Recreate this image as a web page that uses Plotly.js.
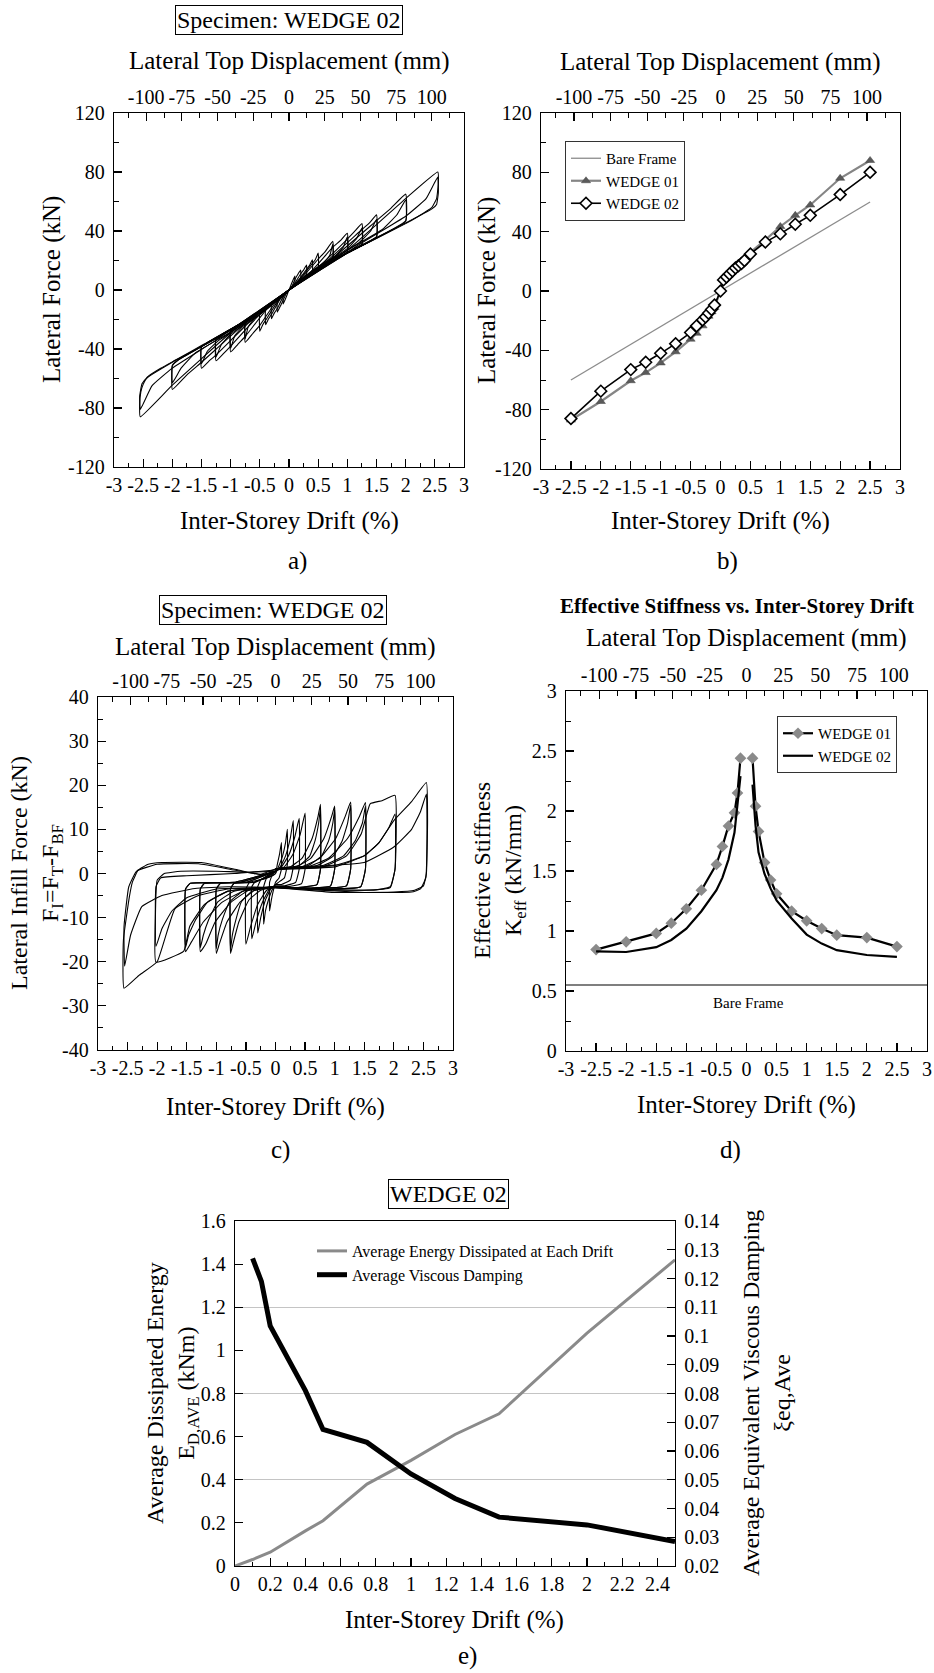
<!DOCTYPE html>
<html><head><meta charset="utf-8">
<script src="https://cdn.plot.ly/plotly-3.0.1.min.js"></script>
<style>html,body{margin:0;padding:0;background:#fff}#chart{width:934px;height:1673px}</style>
</head><body><div id="chart"></div>
<script>
// ---------- Panel a: total lateral force hysteresis (WEDGE 02), loop vertices ----------
const aX010 = [0, 0.05, 0.1, 0.1, 0.05, 0, -0.05, -0.1, -0.1, -0.05, 0];
const aY010 = [0, 5, 9.5, 4.6, 2, 0, -5, -9.5, -4.3, -1.8, 0];
const aX020 = [0, 0.05, 0.1, 0.15, 0.2, 0.2, 0.1, 0, -0.05, -0.1, -0.15, -0.2, -0.2, -0.1, 0];
const aY020 = [0, 2.5, 7, 10.5, 13.5, 8, 3.6, 0, -2.5, -7, -11, -15, -7.5, -3.3, 0];
const aX030 = [0, 0.1, 0.2, 0.25, 0.3, 0.3, 0.15, 0, -0.1, -0.2, -0.25, -0.3, -0.3, -0.15, 0];
const aY030 = [0, 4.5, 11, 13.5, 17, 10.5, 5.4, 0, -4.5, -12.5, -15.5, -19.5, -10.5, -5, 0];
const aX040 = [0, 0.15, 0.3, 0.35, 0.4, 0.4, 0.2, 0, -0.15, -0.3, -0.35, -0.4, -0.4, -0.2, 0];
const aY040 = [0, 6, 14, 16.5, 20.5, 13, 7, 0, -6, -16.5, -19.5, -23.5, -13, -6.5, 0];
const aX050 = [0, 0.2, 0.4, 0.45, 0.5, 0.5, 0.25, 0, -0.2, -0.4, -0.45, -0.5, -0.5, -0.25, 0];
const aY050 = [0, 8, 18, 20.5, 25, 15.5, 8.2, 0, -8, -20.5, -23.5, -28, -16, -8, 0];
const aX075 = [0, 0.25, 0.5, 0.62, 0.75, 0.75, 0.38, 0, -0.25, -0.5, -0.62, -0.75, -0.75, -0.38, 0];
const aY075 = [0, 9.5, 21, 26, 33, 21.5, 11.2, 0, -9.5, -24, -29.5, -35.5, -22.5, -11.7, 0];
const aX075b = [0, 0.38, 0.6, 0.7, 0.75, 0.75, 0.38, 0, -0.38, -0.6, -0.7, -0.75, -0.75, -0.38, 0];
const aY075b = [0, 12.5, 18.5, 23.5, 31, 21.5, 11.2, 0, -13, -19.5, -25, -33, -22.5, -11.7, 0];
const aX100 = [0, 0.38, 0.75, 0.88, 1.0, 1.0, 0.5, 0, -0.38, -0.75, -0.88, -1.0, -1.0, -0.5, 0];
const aY100 = [0, 12.5, 29, 33.5, 38.5, 26, 14.1, 0, -13, -31.5, -37, -42, -28, -15, 0];
const aX100b = [0, 0.5, 0.8, 0.93, 1.0, 1.0, 0.5, 0, -0.5, -0.8, -0.93, -1.0, -1.0, -0.5, 0];
const aY100b = [0, 15.5, 23.5, 29, 36, 26, 14.1, 0, -16.5, -25, -31, -39.5, -28, -15, 0];
const aX125 = [0, 0.5, 1.0, 1.12, 1.25, 1.25, 0.62, 0, -0.5, -1.0, -1.12, -1.25, -1.25, -0.62, 0];
const aY125 = [0, 15.5, 34.5, 39.5, 45, 31, 17.1, 0, -16.5, -38, -43, -48, -33, -18, 0];
const aX125b = [0, 0.62, 1.0, 1.16, 1.25, 1.25, 0.62, 0, -0.62, -1.0, -1.16, -1.25, -1.25, -0.62, 0];
const aY125b = [0, 18, 28, 35, 42, 31, 17.1, 0, -19, -30, -37, -45.5, -33, -18, 0];
const aX150 = [0, 0.62, 1.25, 1.38, 1.5, 1.5, 0.75, 0, -0.62, -1.25, -1.38, -1.5, -1.5, -0.75, 0];
const aY150 = [0, 18.5, 41, 45.5, 51, 36, 20.1, 0, -19.5, -44, -48.5, -53, -38.5, -21, 0];
const aX150b = [0, 0.75, 1.2, 1.4, 1.5, 1.5, 0.75, 0, -0.75, -1.2, -1.4, -1.5, -1.5, -0.75, 0];
const aY150b = [0, 21, 32, 40, 48, 36, 20.1, 0, -22, -34, -41.5, -50, -38.5, -21, 0];
const aX200 = [0, 0.75, 1.5, 1.75, 2.0, 2.0, 1.0, 0, -0.75, -1.5, -1.75, -2.0, -2.0, -1.9, -1.0, 0];
const aY200 = [0, 21.5, 47, 55.5, 65, 47, 25, 0, -22.5, -49, -57.5, -67.5, -51.5, -47.5, -27, 0];
const aX200b = [0, 1.0, 1.6, 1.85, 2.0, 2.0, 1.0, 0, -1.0, -1.6, -1.85, -2.0, -2.0, -1.9, -1.0, 0];
const aY200b = [0, 27, 41, 51, 61, 46.5, 25, 0, -28.5, -42.5, -53, -63, -51, -47.5, -27, 0];
const aX250 = [0, 1.0, 2.0, 2.55, 2.56, 2.53, 2.45, 2.2, 2.0, 1.0, 0.5, 0, -1.0, -2.0, -2.55, -2.56, -2.54, -2.5, -2.43, -2.2, -1.92, -1.47, -1.0, -0.5, 0];
const aY250 = [0, 27, 62, 80, 72, 62, 56, 49.5, 45, 25, 14, 0, -29, -64.5, -86, -78, -69, -64, -59, -53, -47, -37, -27, -15, 0];
const aX250b = [0, 1.25, 2.0, 2.35, 2.55, 2.56, 2.53, 2.45, 2.0, 1.0, 0, -1.25, -2.0, -2.35, -2.55, -2.56, -2.52, -2.43, -2.0, -1.0, 0];
const aY250b = [0, 32, 50, 62, 76.5, 66, 58, 55, 45.5, 25.5, 0, -34, -53, -65, -81, -72, -63.5, -59.5, -49, -27.5, 0];

// ---------- Panel b: envelope curves ----------
const bBareDrift = [-2.5, 2.5];
const bBareForce = [-60, 60];
const bDrift01 = [-2.5, -2, -1.5, -1.25, -1, -0.75, -0.5, -0.4, -0.3, -0.2, -0.15, -0.1, 0, 0.05, 0.1, 0.15, 0.2, 0.3, 0.4, 0.5, 0.75, 1, 1.25, 1.5, 2, 2.5];
const bForce01 = [-87, -74.5, -60.5, -55, -48.5, -41, -32.5, -28.5, -23.5, -17, -14, -11, 0, 8, 10, 12, 14, 18, 22, 26, 34.5, 43.5, 51, 58, 76, 88];
const bDrift02 = [-2.5, -2, -1.5, -1.25, -1, -0.75, -0.5, -0.4, -0.3, -0.25, -0.2, -0.15, -0.1, 0, 0.05, 0.1, 0.15, 0.2, 0.25, 0.3, 0.35, 0.4, 0.5, 0.75, 1, 1.25, 1.5, 2, 2.5];
const bForce02 = [-86, -67.5, -53, -48, -42, -35.5, -28, -23.5, -19.5, -17.5, -15, -12.5, -9.5, 0, 7.5, 9.5, 11.5, 13.5, 15.5, 17, 18.5, 20.5, 25, 33, 38.5, 45, 51, 65, 80];

// ---------- Panel c: infill force hysteresis, loop vertices ----------
const cX010 = [0, 0.03, 0.07, 0.1, 0.1, 0.06, 0, -0.03, -0.07, -0.1, -0.1, -0.06, 0];
const cY010 = [0, 2, 4.5, 7, 1, -1, -2, -3.5, -6, -8.5, -2, -0.5, 0];
const cX020 = [0, 0.05, 0.12, 0.17, 0.2, 0.2, 0.15, 0.05, 0, -0.05, -0.12, -0.17, -0.2, -0.2, -0.15, -0.05, 0];
const cY020 = [0, 1.5, 4, 7, 10, 2, -1, -2, -2.5, -3.5, -6, -8.5, -11.5, -3, -1, -0.5, 0];
const cX030 = [0, 0.08, 0.17, 0.25, 0.3, 0.3, 0.25, 0.1, 0, -0.08, -0.17, -0.25, -0.3, -0.3, -0.25, -0.1, 0];
const cY030 = [0.5, 1.5, 4, 8, 12, 1.5, -1.5, -2.5, -2.5, -3.5, -6, -10, -13.5, -3, -1.5, -0.8, 0.5];
const cX040 = [0, 0.1, 0.22, 0.33, 0.4, 0.4, 0.34, 0.15, 0, -0.1, -0.22, -0.33, -0.4, -0.4, -0.34, -0.15, 0];
const cY040 = [0.5, 1.5, 4, 8.5, 12.5, 1, -2, -2.8, -2.8, -3.5, -6.5, -11, -14.8, -3, -1.8, -1, 0.5];
const cX050 = [0, 0.15, 0.3, 0.42, 0.5, 0.5, 0.44, 0.2, 0, -0.15, -0.3, -0.42, -0.5, -0.5, -0.44, -0.2, 0];
const cY050 = [0.5, 1.5, 4.5, 9, 13.7, 1, -2.3, -3, -3, -3.8, -7, -12, -16, -3.5, -2, -1.2, 0.5];
const cX075 = [0, 0.25, 0.45, 0.62, 0.72, 0.76, 0.76, 0.7, 0.35, 0, -0.25, -0.45, -0.62, -0.72, -0.76, -0.76, -0.7, -0.35, 0];
const cY075 = [1, 1.5, 3.5, 8, 13, 15.7, 1, -2.5, -3.2, -3, -3.8, -6, -11, -16, -18.1, -3.5, -2.2, -2, 0.5];
const cX075b = [0, 0.4, 0.58, 0.67, 0.73, 0.76, 0.76, 0.7, 0.35, 0, -0.4, -0.58, -0.67, -0.73, -0.76, -0.76, -0.7, -0.35, 0];
const cY075b = [1, 1.8, 4, 7.5, 11.5, 14.8, 1, -2.5, -3.2, -3, -4, -6.5, -10.5, -14, -17.2, -3.5, -2.2, -2, 0.5];
const cX100 = [0, 0.35, 0.6, 0.82, 0.95, 1.0, 1.0, 0.93, 0.5, 0, -0.35, -0.6, -0.82, -0.95, -1.0, -1.0, -0.93, -0.5, 0];
const cY100 = [1, 1.5, 3.5, 8, 13, 15.3, 1, -2.8, -3.3, -3, -3.8, -6.5, -11, -16, -18.1, -3.5, -2.2, -2, 0.5];
const cX100b = [0, 0.55, 0.78, 0.9, 0.97, 1.0, 1.0, 0.93, 0.5, 0, -0.55, -0.78, -0.9, -0.97, -1.0, -1.0, -0.93, -0.5, 0];
const cY100b = [1, 1.8, 4, 7.5, 11.5, 14.5, 1, -2.8, -3.3, -3, -4, -6.5, -10.5, -14, -17, -3.5, -2.2, -2, 0.5];
const cX125 = [0, 0.45, 0.75, 1.02, 1.18, 1.27, 1.27, 1.2, 0.6, 0, -0.45, -0.75, -1.02, -1.18, -1.27, -1.27, -1.2, -0.6, 0];
const cY125 = [1, 1.5, 3.5, 8, 13, 16.2, 1, -2.8, -3.4, -3, -3.8, -6.5, -11, -16, -17.7, -3.5, -2.2, -2, 0.5];
const cX125b = [0, 0.7, 0.98, 1.13, 1.22, 1.27, 1.27, 1.2, 0.6, 0, -0.7, -0.98, -1.13, -1.22, -1.27, -1.27, -1.2, -0.6, 0];
const cY125b = [1, 1.8, 4, 7.5, 11.5, 15.5, 1, -2.8, -3.4, -3, -4, -6.5, -10.5, -14, -16.8, -3.5, -2.2, -2, 0.5];
const cX150 = [0, 0.55, 0.9, 1.22, 1.42, 1.52, 1.52, 1.44, 0.7, 0, -0.55, -0.9, -1.22, -1.42, -1.52, -1.52, -1.44, -0.7, 0];
const cY150 = [1, 1.5, 3.5, 8, 13, 16.1, 1, -3, -3.5, -3, -4, -6.5, -11, -15.5, -17.7, -3.5, -2.2, -2, 0.5];
const cX150b = [0, 0.8, 1.15, 1.35, 1.47, 1.52, 1.52, 1.44, 0.7, 0, -0.8, -1.15, -1.35, -1.47, -1.52, -1.52, -1.44, -0.7, 0];
const cY150b = [1, 1.8, 4, 7.5, 11.5, 15.3, 1, -3, -3.5, -3, -4, -6.5, -10.5, -14, -16.8, -3.5, -2.2, -2, 0.5];
const cX200 = [0, 0.8, 1.2, 1.45, 1.6, 1.8, 2.02, 2.02, 1.94, 1.7, 1.0, 0, -0.8, -1.2, -1.45, -1.55, -2.02, -2.03, -2.0, -1.88, -1.6, -1.0, -0.5, 0];
const cY200 = [1, 1.5, 4, 9, 15.8, 16.5, 17.7, 1, -3, -3.7, -3.8, -3, -4, -7, -12, -17.6, -20.1, -10, -1.5, 0, 0.5, 0.5, 0.3, 0.5];
const cX200b = [0, 1.0, 1.5, 1.75, 1.92, 2.02, 2.02, 1.94, 1.5, 0, -1.0, -1.5, -1.75, -1.92, -2.02, -2.02, -1.94, -1.5, -0.7, 0];
const cY200b = [1, 1.8, 4, 7, 10.5, 13.5, 1, -3.2, -3.8, -3.2, -3.5, -5.5, -8.5, -12.5, -16.5, -3, -1, -0.5, 0, 0.8];
const cX250 = [0, 1.0, 1.5, 1.75, 2.0, 2.3, 2.55, 2.57, 2.55, 2.5, 2.35, 2.0, 1.0, 0, -0.8, -1.3, -1.7, -2.0, -2.3, -2.56, -2.57, -2.47, -2.42, -2.32, -2.15, -1.92, -1.25, -0.63, -0.23, 0];
const cY250 = [1, 1.5, 4, 7, 12, 16.3, 20.6, 12, 0, -2.8, -3.8, -4.2, -4.3, -3.2, -3.5, -5, -8, -20, -23, -26, -15, -5.3, -2, 0.8, 2.1, 2.5, 2.5, 0.8, -0.3, 0.5];
const cX250b = [0, 1.5, 2.0, 2.3, 2.45, 2.55, 2.56, 2.54, 2.45, 2.3, 1.5, 0, -0.8, -1.36, -1.92, -2.26, -2.45, -2.55, -2.56, -2.48, -2.35, -2.0, -1.3, -0.7, -0.25, 0];
const cY250b = [1, 2.5, 6, 10, 14, 18, 8, -1, -3.5, -4.2, -4.3, -3.2, -3, -3.4, -5, -7.5, -14, -21, -12, -3, 0.5, 2.1, 2.2, 0.8, -0.2, 1];

// ---------- Panel d: effective stiffness ----------
const dDrift = [-2.5, -2, -1.5, -1.25, -1, -0.75, -0.5, -0.4, -0.3, -0.2, -0.15, -0.1, 0, 0.1, 0.15, 0.2, 0.3, 0.4, 0.5, 0.75, 1, 1.25, 1.5, 2, 2.5];
const dK01 = [0.845, 0.91, 0.98, 1.065, 1.185, 1.34, 1.555, 1.705, 1.875, 1.985, 2.15, 2.44, null, 2.44, 2.04, 1.83, 1.57, 1.425, 1.31, 1.165, 1.085, 1.02, 0.965, 0.945, 0.87];
const dK02 = [0.83, 0.825, 0.865, 0.925, 1.02, 1.165, 1.34, 1.445, 1.595, 1.82, 2.055, 2.29, null, 2.22, 1.88, 1.655, 1.475, 1.355, 1.255, 1.105, 0.97, 0.895, 0.84, 0.8, 0.785];
const dBareDrift = [-3, 3];
const dBareK = [0.55, 0.55];

// ---------- Panel e: energy and damping ----------
const eDrift = [0, 0.1, 0.2, 0.3, 0.4, 0.5, 0.75, 1, 1.25, 1.5, 2, 2.5];
const eEnergy = [0, 0.03, 0.064, 0.115, 0.163, 0.21, 0.38, 0.49, 0.61, 0.706, 1.08, 1.42];
const eDampDrift = [0.1, 0.15, 0.2, 0.3, 0.4, 0.5, 0.75, 1, 1.25, 1.5, 2, 2.5];
const eDamping = [0.127, 0.119, 0.1035, 0.092, 0.081, 0.0675, 0.063, 0.052, 0.0435, 0.037, 0.0343, 0.0285];

// ---------- tick labels ----------
const driftTicks = [-3, -2.5, -2, -1.5, -1, -0.5, 0, 0.5, 1, 1.5, 2, 2.5, 3];
const dispTicks = [-100, -75, -50, -25, 0, 25, 50, 75, 100];
const forceTicksA = [-120, -80, -40, 0, 40, 80, 120];
const forceTicksC = [-40, -30, -20, -10, 0, 10, 20, 30, 40];

// ---------- layout helpers ----------
const W = 934, H = 1673;
const SERIF = 'Liberation Serif, DejaVu Serif, Times New Roman, serif';
const px = v => v / W;
const py = v => 1 - v / H;
const lbl = arr => arr.map(v => String(v));

const panels = {
  a: {l: 114, r: 464, t: 113, b: 467},
  b: {l: 541, r: 900, t: 113, b: 469},
  c: {l: 98, r: 453, t: 697, b: 1050},
  d: {l: 566, r: 927, t: 691, b: 1051},
  e: {l: 235, r: 675, t: 1221, b: 1566}
};
const xd = p => [px(p.l), px(p.r)];
const yd = p => [py(p.b), py(p.t)];

function baseAx(extra) {
  return Object.assign({
    showline: true, linecolor: '#000', linewidth: 1.3, mirror: true,
    ticks: 'inside', ticklen: 8, tickwidth: 1.2, tickcolor: '#000',
    showgrid: false, zeroline: false, tickangle: 0, fixedrange: true,
    tickfont: {family: SERIF, size: 20, color: '#000'}
  }, extra);
}
function minor(t0, dt) {
  return {tickmode: 'linear', tick0: t0, dtick: dt, ticks: 'inside', ticklen: 4.5, tickwidth: 1, tickcolor: '#000', showgrid: false};
}
function driftAx(p, anchor) {
  return baseAx({domain: xd(p), anchor: anchor, range: [-3, 3], tickmode: 'array',
    tickvals: driftTicks, ticktext: lbl(driftTicks), minor: minor(0.25, 0.5)});
}
function dispAx(p, overlay, anchor) {
  return baseAx({domain: xd(p), anchor: anchor, overlaying: overlay, side: 'top', mirror: false,
    range: [-122.5, 122.5], tickmode: 'array', tickvals: dispTicks, ticktext: lbl(dispTicks),
    minor: minor(12.5, 25)});
}

const traces = [];
function loop(xs, ys, xa, ya) {
  traces.push({x: xs, y: ys, xaxis: xa, yaxis: ya, type: 'scatter', mode: 'lines',
    line: {color: '#000', width: 1.1, shape: 'spline', smoothing: 0.35}, showlegend: false, hoverinfo: 'skip'});
}
function empty(xa, ya) {
  traces.push({x: [], y: [], xaxis: xa, yaxis: ya, type: 'scatter', mode: 'lines', showlegend: false, hoverinfo: 'skip'});
}

// Panel a
[[aX010, aY010], [aX020, aY020], [aX030, aY030], [aX040, aY040], [aX050, aY050],
 [aX075, aY075], [aX075b, aY075b], [aX100, aY100], [aX100b, aY100b], [aX125, aY125], [aX125b, aY125b],
 [aX150, aY150], [aX150b, aY150b], [aX200, aY200], [aX200b, aY200b], [aX250, aY250], [aX250b, aY250b]]
  .forEach(l => loop(l[0], l[1], 'x', 'y'));
empty('x2', 'y');

// Panel b
traces.push({x: bBareDrift, y: bBareForce, xaxis: 'x3', yaxis: 'y2', type: 'scatter', mode: 'lines',
  name: 'Bare Frame', line: {color: '#8c8c8c', width: 1.3}, legend: 'legend', hoverinfo: 'skip'});
traces.push({x: bDrift01, y: bForce01, xaxis: 'x3', yaxis: 'y2', type: 'scatter', mode: 'lines+markers',
  name: 'WEDGE 01', line: {color: '#858585', width: 2.2},
  marker: {symbol: 'triangle-up', size: 8, color: '#5a5a5a', line: {color: '#444', width: 0.5}},
  legend: 'legend', hoverinfo: 'skip'});
traces.push({x: bDrift02, y: bForce02, xaxis: 'x3', yaxis: 'y2', type: 'scatter', mode: 'lines+markers',
  name: 'WEDGE 02', line: {color: '#000', width: 1.6},
  marker: {symbol: 'diamond', size: 9, color: '#fff', line: {color: '#000', width: 1.6}},
  legend: 'legend', hoverinfo: 'skip'});
empty('x4', 'y2');

// Panel c
[[cX010, cY010], [cX020, cY020], [cX030, cY030], [cX040, cY040], [cX050, cY050],
 [cX075, cY075], [cX075b, cY075b], [cX100, cY100], [cX100b, cY100b], [cX125, cY125], [cX125b, cY125b],
 [cX150, cY150], [cX150b, cY150b], [cX200, cY200], [cX200b, cY200b], [cX250, cY250], [cX250b, cY250b]]
  .forEach(l => loop(l[0], l[1], 'x5', 'y3'));
empty('x6', 'y3');

// Panel d
traces.push({x: dBareDrift, y: dBareK, xaxis: 'x7', yaxis: 'y4', type: 'scatter', mode: 'lines',
  line: {color: '#555', width: 1.6}, showlegend: false, hoverinfo: 'skip'});
traces.push({x: dDrift, y: dK01, xaxis: 'x7', yaxis: 'y4', type: 'scatter', mode: 'lines+markers',
  name: 'WEDGE 01', line: {color: '#000', width: 2.2},
  marker: {symbol: 'diamond', size: 9, color: '#8a8a8a'}, legend: 'legend2', hoverinfo: 'skip'});
traces.push({x: dDrift, y: dK02, xaxis: 'x7', yaxis: 'y4', type: 'scatter', mode: 'lines',
  name: 'WEDGE 02', line: {color: '#000', width: 2.2}, legend: 'legend2', hoverinfo: 'skip'});
empty('x8', 'y4');

// Panel e
empty('x9', 'y7');
traces.push({x: eDrift, y: eEnergy, xaxis: 'x9', yaxis: 'y5', type: 'scatter', mode: 'lines',
  name: 'Average Energy Dissipated at Each Drift', line: {color: '#8a8a8a', width: 3},
  legend: 'legend3', hoverinfo: 'skip'});
traces.push({x: eDampDrift, y: eDamping, xaxis: 'x9', yaxis: 'y6', type: 'scatter', mode: 'lines',
  name: 'Average Viscous Damping', line: {color: '#000', width: 5},
  legend: 'legend3', hoverinfo: 'skip'});

const P = panels;
function ann(text, x, y, size, extra) {
  return Object.assign({xref: 'paper', yref: 'paper', x: px(x), y: py(y), text: text, showarrow: false,
    xanchor: 'center', yanchor: 'middle', font: {family: SERIF, size: size, color: '#000'}}, extra || {});
}
const boxed = {bordercolor: '#000', borderwidth: 1, borderpad: 1, bgcolor: '#fff'};
const rot = {textangle: -90};
const T = 25;

const annotations = [
  ann('Specimen: WEDGE 02', 289, 20, 24, boxed),
  ann('Lateral Top Displacement (mm)', 289, 61, T),
  ann('Inter-Storey Drift (%)', 289, 521, T),
  ann('Lateral Force (kN)', 52, 290, T, rot),
  ann('a)', 297, 561, T),

  ann('Lateral Top Displacement (mm)', 720, 62, T),
  ann('Inter-Storey Drift (%)', 720, 521, T),
  ann('Lateral Force (kN)', 487, 291, T, rot),
  ann('b)', 727, 561, T),

  ann('Specimen: WEDGE 02', 273, 610, 24, boxed),
  ann('Lateral Top Displacement (mm)', 275, 647, T),
  ann('Lateral Infill Force (kN)<br>F<sub>I</sub>=F<sub>T</sub>-F<sub>BF</sub>', 37, 873, 24, rot),
  ann('Inter-Storey Drift (%)', 275, 1107, T),
  ann('c)', 280, 1150, T),

  ann('<b>Effective Stiffness vs. Inter-Storey Drift</b>', 737, 606, 21),
  ann('Lateral Top Displacement (mm)', 746, 638, T),
  ann('Effective Stiffness<br>K<sub>eff</sub> (kN/mm)', 499, 871, 24, rot),
  ann('Bare Frame', 748, 1003, 15),
  ann('Inter-Storey Drift (%)', 746, 1105, T),
  ann('d)', 730, 1150, T),

  ann('WEDGE 02', 448, 1194, 24, boxed),
  ann('Average Dissipated Energy<br>E<sub>D,AVE</sub> (kNm)', 172, 1393, 24, rot),
  ann('Average Equivalent Viscous Damping<br>ξeq,Ave', 766, 1393, 24, rot),
  ann('Inter-Storey Drift (%)', 454, 1620, T),
  ann('e)', 467, 1672, T, {yanchor: 'bottom'})
];

const legendFont = {family: SERIF, size: 15, color: '#000'};
const layout = {
  width: W, height: H, margin: {l: 0, r: 0, t: 0, b: 0},
  paper_bgcolor: '#fff', plot_bgcolor: '#fff', font: {family: SERIF, color: '#000'},
  hovermode: false,
  xaxis: driftAx(P.a, 'y'),
  xaxis2: dispAx(P.a, 'x', 'y'),
  yaxis: baseAx({domain: yd(P.a), anchor: 'x', range: [-120, 120], tickmode: 'array',
    tickvals: forceTicksA, ticktext: lbl(forceTicksA), minor: minor(20, 40), ticklabelstandoff: 4}),
  xaxis3: driftAx(P.b, 'y2'),
  xaxis4: dispAx(P.b, 'x3', 'y2'),
  yaxis2: baseAx({domain: yd(P.b), anchor: 'x3', range: [-120, 120], tickmode: 'array',
    tickvals: forceTicksA, ticktext: lbl(forceTicksA), minor: minor(20, 40), ticklabelstandoff: 4}),
  xaxis5: driftAx(P.c, 'y3'),
  xaxis6: dispAx(P.c, 'x5', 'y3'),
  yaxis3: baseAx({domain: yd(P.c), anchor: 'x5', range: [-40, 40], tickmode: 'array',
    tickvals: forceTicksC, ticktext: lbl(forceTicksC), minor: minor(5, 10), ticklabelstandoff: 4}),
  xaxis7: driftAx(P.d, 'y4'),
  xaxis8: dispAx(P.d, 'x7', 'y4'),
  yaxis4: baseAx({domain: yd(P.d), anchor: 'x7', range: [0, 3], dtick: 0.5, tick0: 0,
    minor: minor(0.25, 0.5), ticklabelstandoff: 4}),
  xaxis9: baseAx({domain: xd(P.e), anchor: 'y5', range: [0, 2.5], dtick: 0.2, tick0: 0,
    minor: minor(0.1, 0.2)}),
  yaxis5: baseAx({domain: yd(P.e), anchor: 'x9', range: [0, 1.6], dtick: 0.2, tick0: 0, mirror: false,
    ticklabelstandoff: 4}),
  yaxis6: baseAx({domain: yd(P.e), anchor: 'x9', overlaying: 'y5', side: 'right', mirror: false,
    range: [0.02, 0.14], dtick: 0.01, tick0: 0.02, ticklabelstandoff: 4}),
  yaxis7: {domain: yd(P.e), anchor: 'x9', overlaying: 'y5', range: [0, 1.6], tickmode: 'array',
    tickvals: [0.4, 0.8, 1.2], showgrid: true, gridcolor: '#c4c4c4', gridwidth: 1.3,
    showticklabels: false, ticks: '', showline: false, zeroline: false, fixedrange: true},
  legend: {x: px(565), y: py(141), xanchor: 'left', yanchor: 'top', bgcolor: '#fff',
    bordercolor: '#333', borderwidth: 1, font: legendFont, itemwidth: 30, tracegroupgap: 0, traceorder: 'normal'},
  legend2: {x: px(777), y: py(716), xanchor: 'left', yanchor: 'top', bgcolor: '#fff',
    bordercolor: '#333', borderwidth: 1, font: legendFont, itemwidth: 30, tracegroupgap: 0, traceorder: 'normal'},
  legend3: {x: px(312), y: py(1234), xanchor: 'left', yanchor: 'top', bgcolor: 'rgba(0,0,0,0)',
    borderwidth: 0, font: {family: SERIF, size: 16, color: '#000'}, itemwidth: 30, tracegroupgap: 0, traceorder: 'normal'},
  annotations: annotations
};

Plotly.newPlot('chart', traces, layout, {staticPlot: true, displayModeBar: false});
</script></body></html>
